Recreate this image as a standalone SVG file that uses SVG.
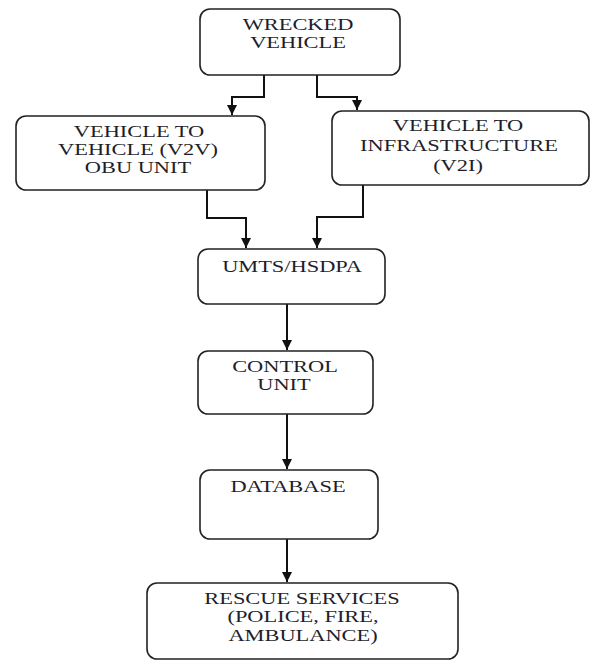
<svg xmlns="http://www.w3.org/2000/svg" width="594" height="662" viewBox="0 0 594 662">
<style>
.box{fill:#fff;stroke:#222;stroke-width:1.6}
.t{font-family:"Liberation Serif","Times New Roman",serif;font-size:16px;fill:#1e1e2a;text-anchor:middle}
.c{fill:none;stroke:#111;stroke-width:2}
</style>
<defs>
<marker id="ah" markerUnits="userSpaceOnUse" markerWidth="12" markerHeight="12" viewBox="0 0 12 12" refX="10" refY="6" orient="auto">
<path d="M0,1 L10,6 L0,11 Z" fill="#111"/>
</marker>
</defs>
<rect width="594" height="662" fill="#fff"/>
<g id="connectors">
<path class="c" d="M264,75 V97 H232 V115" marker-end="url(#ah)"/>
<path class="c" d="M317,75 V97 H357 V110" marker-end="url(#ah)"/>
<path class="c" d="M207,190 V218 H246 V248" marker-end="url(#ah)"/>
<path class="c" d="M363,185 V217 H317 V248" marker-end="url(#ah)"/>
<path class="c" d="M287,304 V350" marker-end="url(#ah)"/>
<path class="c" d="M287,414 V469" marker-end="url(#ah)"/>
<path class="c" d="M287,539 V582" marker-end="url(#ah)"/>
</g>
<g id="wrecked">
<rect class="box" x="200" y="9" width="200" height="66" rx="10"/>
<text class="t" transform="translate(298,30) scale(1.4,1)">WRECKED</text>
<text class="t" transform="translate(298,48) scale(1.4,1)">VEHICLE</text>
</g>
<g id="v2v">
<rect class="box" x="16" y="116" width="249" height="74" rx="10"/>
<text class="t" transform="translate(139,137) scale(1.4,1)">VEHICLE TO</text>
<text class="t" transform="translate(138,155) scale(1.4,1)">VEHICLE (V2V)</text>
<text class="t" transform="translate(138,173) scale(1.4,1)">OBU UNIT</text>
</g>
<g id="v2i">
<rect class="box" x="332" y="111" width="257" height="74" rx="10"/>
<text class="t" transform="translate(458,131) scale(1.4,1)">VEHICLE TO</text>
<text class="t" transform="translate(459,151) scale(1.4,1)">INFRASTRUCTURE</text>
<text class="t" transform="translate(458,171) scale(1.4,1)">(V2I)</text>
</g>
<g id="umts">
<rect class="box" x="198" y="249" width="187" height="55" rx="10"/>
<text class="t" transform="translate(292,272) scale(1.4,1)">UMTS/HSDPA</text>
</g>
<g id="control">
<rect class="box" x="198" y="351" width="175" height="63" rx="10"/>
<text class="t" transform="translate(285,372) scale(1.4,1)">CONTROL</text>
<text class="t" transform="translate(284,390) scale(1.4,1)">UNIT</text>
</g>
<g id="database">
<rect class="box" x="200" y="470" width="178" height="69" rx="10"/>
<text class="t" transform="translate(288,492) scale(1.4,1)">DATABASE</text>
</g>
<g id="rescue">
<rect class="box" x="147" y="583" width="311" height="76" rx="10"/>
<text class="t" transform="translate(302,604) scale(1.4,1)">RESCUE SERVICES</text>
<text class="t" transform="translate(303,622) scale(1.4,1)">(POLICE, FIRE,</text>
<text class="t" transform="translate(303,641) scale(1.4,1)">AMBULANCE)</text>
</g>
</svg>
